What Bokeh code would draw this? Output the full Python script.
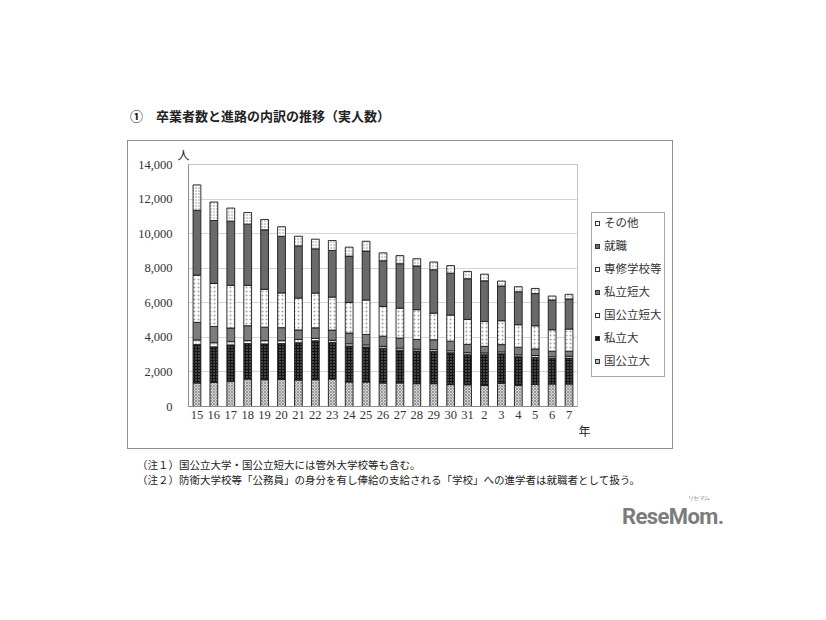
from bokeh.plotting import figure
from bokeh.layouts import column, row
from bokeh.models import (ColumnDataSource, Range1d, Title, Div,
                          NumeralTickFormatter, SingleIntervalTicker, FixedTicker)
from bokeh.embed import file_html
from bokeh.resources import INLINE

# ---- data (graduates by destination, persons) ----
years = ["15", "16", "17", "18", "19", "20", "21", "22", "23", "24", "25", "26",
         "27", "28", "29", "30", "31", "2", "3", "4", "5", "6", "7"]
kokkoritsu_dai = [1360, 1400, 1455, 1590, 1550, 1570, 1530, 1550, 1590, 1420, 1415, 1360,
                  1360, 1320, 1320, 1270, 1260, 1225, 1340, 1225, 1280, 1300, 1300]
shiritsu_dai = [2220, 2050, 2105, 2050, 2070, 2070, 2160, 2250, 2110, 2080, 2025, 2010,
                1900, 1890, 1860, 1840, 1740, 1775, 1710, 1655, 1560, 1470, 1500]
kokkoritsu_tandai = [270, 240, 190, 170, 190, 170, 190, 140, 130, 130, 120, 110,
                     120, 110, 110, 110, 110, 100, 110, 110, 110, 100, 110]
shiritsu_tandai = [1020, 940, 790, 860, 780, 750, 550, 610, 590, 620, 610, 585,
                   580, 560, 570, 560, 480, 380, 420, 440, 380, 330, 290]
senshu = [2730, 2490, 2470, 2340, 2190, 2010, 1845, 2010, 1910, 1770, 1990, 1725,
          1730, 1720, 1540, 1510, 1450, 1440, 1380, 1300, 1340, 1240, 1280]
shushoku = [3750, 3640, 3710, 3540, 3440, 3270, 3015, 2560, 2700, 2680, 2830, 2640,
            2570, 2530, 2510, 2420, 2350, 2350, 2010, 1910, 1860, 1720, 1740]
sonota = [1470, 1070, 760, 670, 600, 560, 560, 560, 570, 520, 570, 460,
          470, 420, 450, 440, 425, 385, 285, 290, 300, 230, 270]

series_keys = ["kd", "sd", "kt", "st", "se", "sh", "so"]
series_names = ["国公立大", "私立大", "国公立短大", "私立短大", "専修学校等", "就職", "その他"]
y_ticks_interval = 2000

title_text = "①　卒業者数と進路の内訳の推移（実人数）"
note1 = "（注１）国公立大学・国公立短大には管外大学校等も含む。"
note2 = "（注２）防衛大学校等「公務員」の身分を有し俸給の支給される「学校」への進学者は就職者として扱う。"

xpos = list(range(len(years)))
source = ColumnDataSource(dict(x=xpos, year=years, kd=kokkoritsu_dai, sd=shiritsu_dai,
                               kt=kokkoritsu_tandai, st=shiritsu_tandai,
                               se=senshu, sh=shushoku, so=sonota))

JP = "Noto Sans CJK JP"
NUM = "Liberation Serif"

p = figure(width=466, height=307, x_range=Range1d(-0.5, len(years) - 0.5),
           y_range=Range1d(0, 14000), output_backend="svg", toolbar_location=None,
           min_border_left=60, min_border_right=17, min_border_top=21,
           min_border_bottom=42)

p.background_fill_color = "white"
p.border_fill_color = "white"
p.outline_line_color = "#c4c4c4"
p.xgrid.visible = False
p.ygrid.grid_line_color = "#d4d4d4"
p.ygrid.grid_line_width = 1

p.yaxis.ticker = SingleIntervalTicker(interval=y_ticks_interval)
p.yaxis.formatter = NumeralTickFormatter(format="0,0")
p.xaxis.ticker = FixedTicker(ticks=xpos)
p.xaxis.major_label_overrides = {i: y for i, y in zip(xpos, years)}
for ax in (p.xaxis, p.yaxis):
    ax.axis_line_color = "#8c8c8c"
    ax.major_tick_line_color = None
    ax.minor_tick_line_color = None
    ax.major_tick_in = 0
    ax.major_tick_out = 0
    ax.major_label_text_font = NUM
    ax.major_label_text_font_size = "12.5px"
    ax.major_label_text_color = "#333333"
p.yaxis.major_label_standoff = 12
p.xaxis.major_label_standoff = 4

fills = ["#d4d4d4", "#151515", "white", "#7d7d7d", "white", "#6a6a6a", "white"]
hatches = ["x", ".", ".", " ", ".", " ", "."]
hatch_colors = ["#808080", "#8a8a8a", "#8a8a8a", "#7d7d7d", "#a0a0a0", "#6a6a6a", "#8a8a8a"]
hatch_scales = [3.0, 3.0, 3.0, 3.0, 4.0, 3.0, 3.0]
hatch_weights = [0.7, 0.9, 0.9, 0.5, 0.9, 0.5, 0.9]

renderers = p.vbar_stack(series_keys, x="x", width=0.46, source=source,
                         fill_color=fills, hatch_pattern=hatches, hatch_color=hatch_colors,
                         hatch_scale=hatch_scales, hatch_weight=hatch_weights,
                         line_color="#1a1a1a", line_width=0.9)

# unit labels
p.add_layout(Title(text="人", align="left", offset=-11, standoff=4,
                   text_font=JP, text_font_size="12px", text_font_style="normal",
                   text_color="#222222"), "above")
p.add_layout(Title(text="年", align="right", offset=-13, standoff=0, vertical_align="top",
                   text_font=JP, text_font_size="12px", text_font_style="normal",
                   text_color="#222222"), "below")

# legend (top entry = top of stack)
legend_fills = ["white", "#6a6a6a", "white", "#7d7d7d", "white", "#151515", "#bdbdbd"]
legend_rows = "".join(
    '<div style="height:23px; line-height:23px; white-space:nowrap">'
    '<span style="display:inline-block; width:5px; height:5px; border:1px solid #333; '
    f'background:{c}; margin:0 4px 0 0; vertical-align:middle"></span>{name}</div>'
    for name, c in zip(reversed(series_names), legend_fills))
legend_div = Div(
    text=('<div style="margin:71px 0 0 -3px; width:74px; height:165px; box-sizing:border-box; '
          'border:1px solid #a8a8a8; padding:0 0 0 3px; background:white">'
          f'<div style="margin-top:-2px">{legend_rows}</div></div>'),
    width=78, height=307, margin=0,
    styles={"font-family": JP, "font-size": "11.5px", "color": "#333333"})

chart = row(p, legend_div, spacing=0, margin=(13, 0, 0, 128),
            styles={"outline": "1px solid #8f8f8f", "outline-offset": "0px",
                    "background": "white"})

title_div = Div(text=title_text, width=640, height=20, margin=(108, 0, 0, 130),
                styles={"font-family": JP, "font-size": "13px", "font-weight": "bold",
                        "color": "#222222", "line-height": "16px", "white-space": "nowrap"})
note_style = {"font-family": JP, "font-size": "10.5px", "color": "#222222",
              "line-height": "15px", "white-space": "nowrap"}
note1_div = Div(text=note1, width=640, height=15, margin=(9, 0, 0, 137), styles=note_style)
note2_div = Div(text=note2, width=640, height=15, margin=(0, 0, 0, 137), styles=note_style)
logo_div = Div(text='<span style="position:relative">ReseMom.'
                    '<span style="position:absolute; left:66px; top:-9px; font-size:6px; '
                    'line-height:6px; font-weight:normal">リセマム</span></span>',
               width=130, height=30, margin=(16, 0, 0, 622),
               styles={"font-family": "Roboto", "font-size": "22px", "font-weight": "bold",
                       "letter-spacing": "-0.6px",
                       "color": "#7c7c7c", "line-height": "27px", "white-space": "nowrap"})

layout = column(title_div, chart, note1_div, note2_div, logo_div, spacing=0)

open("out.html", "w").write(file_html(layout, INLINE))
